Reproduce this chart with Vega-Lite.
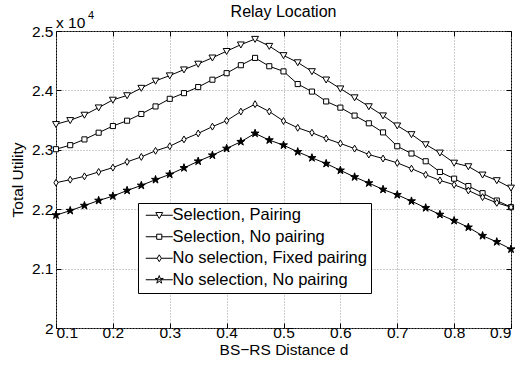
{
  "$schema": "https://vega.github.io/schema/vega-lite/v6.json",
  "width": 455,
  "height": 297,
  "autosize": {"type": "none"},
  "padding": {"left": 56, "top": 31, "right": 11, "bottom": 39},
  "background": "white",
  "title": {"text": "Relay Location", "font": "Liberation Sans", "fontSize": 16, "fontWeight": "normal", "color": "black", "frame": "group", "anchor": "middle", "offset": 9, "dy": 19},
  "config": {
    "font": "Liberation Sans",
    "view": {"stroke": "black", "strokeWidth": 1},
    "axis": {
      "labelFont": "Liberation Sans", "labelFontSize": 15.5, "labelColor": "black",
      "titleFont": "Liberation Sans", "titleFontSize": 15.5, "titleFontWeight": "normal", "titleColor": "black",
      "domainColor": "black", "tickColor": "black", "tickSize": -5, "labelPadding": 3,
      "gridColor": "#9a9a9a", "gridDash": [1, 2], "gridWidth": 1
    },
    "legend": {"labelFont": "Liberation Sans", "labelFontSize": 16.5, "labelColor": "black"}
  },
  "data": {"values": [
    {"d":0.1,"s":"Selection, Pairing","u":2.343},{"d":0.125,"s":"Selection, Pairing","u":2.3497},{"d":0.15,"s":"Selection, Pairing","u":2.3587},{"d":0.175,"s":"Selection, Pairing","u":2.371},{"d":0.2,"s":"Selection, Pairing","u":2.384},{"d":0.225,"s":"Selection, Pairing","u":2.3915},{"d":0.25,"s":"Selection, Pairing","u":2.404},{"d":0.275,"s":"Selection, Pairing","u":2.416},{"d":0.3,"s":"Selection, Pairing","u":2.425},{"d":0.325,"s":"Selection, Pairing","u":2.435},{"d":0.35,"s":"Selection, Pairing","u":2.4446},{"d":0.375,"s":"Selection, Pairing","u":2.455},{"d":0.4,"s":"Selection, Pairing","u":2.466},{"d":0.425,"s":"Selection, Pairing","u":2.477},{"d":0.45,"s":"Selection, Pairing","u":2.4864},{"d":0.475,"s":"Selection, Pairing","u":2.4746},{"d":0.5,"s":"Selection, Pairing","u":2.459},{"d":0.525,"s":"Selection, Pairing","u":2.447},{"d":0.55,"s":"Selection, Pairing","u":2.432},{"d":0.575,"s":"Selection, Pairing","u":2.418},{"d":0.6,"s":"Selection, Pairing","u":2.403},{"d":0.625,"s":"Selection, Pairing","u":2.388},{"d":0.65,"s":"Selection, Pairing","u":2.373},{"d":0.675,"s":"Selection, Pairing","u":2.3576},{"d":0.7,"s":"Selection, Pairing","u":2.3407},{"d":0.725,"s":"Selection, Pairing","u":2.326},{"d":0.75,"s":"Selection, Pairing","u":2.309},{"d":0.775,"s":"Selection, Pairing","u":2.295},{"d":0.8,"s":"Selection, Pairing","u":2.278},{"d":0.825,"s":"Selection, Pairing","u":2.272},{"d":0.85,"s":"Selection, Pairing","u":2.258},{"d":0.875,"s":"Selection, Pairing","u":2.2485},{"d":0.9,"s":"Selection, Pairing","u":2.236},
    {"d":0.1,"s":"Selection, No pairing","u":2.301},{"d":0.125,"s":"Selection, No pairing","u":2.3078},{"d":0.15,"s":"Selection, No pairing","u":2.3175},{"d":0.175,"s":"Selection, No pairing","u":2.3288},{"d":0.2,"s":"Selection, No pairing","u":2.34},{"d":0.225,"s":"Selection, No pairing","u":2.349},{"d":0.25,"s":"Selection, No pairing","u":2.3603},{"d":0.275,"s":"Selection, No pairing","u":2.373},{"d":0.3,"s":"Selection, No pairing","u":2.3858},{"d":0.325,"s":"Selection, No pairing","u":2.3954},{"d":0.35,"s":"Selection, No pairing","u":2.4056},{"d":0.375,"s":"Selection, No pairing","u":2.418},{"d":0.4,"s":"Selection, No pairing","u":2.429},{"d":0.425,"s":"Selection, No pairing","u":2.4424},{"d":0.45,"s":"Selection, No pairing","u":2.4547},{"d":0.475,"s":"Selection, No pairing","u":2.4407},{"d":0.5,"s":"Selection, No pairing","u":2.432},{"d":0.525,"s":"Selection, No pairing","u":2.4107},{"d":0.55,"s":"Selection, No pairing","u":2.398},{"d":0.575,"s":"Selection, No pairing","u":2.3814},{"d":0.6,"s":"Selection, No pairing","u":2.371},{"d":0.625,"s":"Selection, No pairing","u":2.3576},{"d":0.65,"s":"Selection, No pairing","u":2.3446},{"d":0.675,"s":"Selection, No pairing","u":2.3293},{"d":0.7,"s":"Selection, No pairing","u":2.306},{"d":0.725,"s":"Selection, No pairing","u":2.2937},{"d":0.75,"s":"Selection, No pairing","u":2.2807},{"d":0.775,"s":"Selection, No pairing","u":2.2627},{"d":0.8,"s":"Selection, No pairing","u":2.2514},{"d":0.825,"s":"Selection, No pairing","u":2.239},{"d":0.85,"s":"Selection, No pairing","u":2.227},{"d":0.875,"s":"Selection, No pairing","u":2.2146},{"d":0.9,"s":"Selection, No pairing","u":2.2034},
    {"d":0.1,"s":"No selection, Fixed pairing","u":2.2446},{"d":0.125,"s":"No selection, Fixed pairing","u":2.2497},{"d":0.15,"s":"No selection, Fixed pairing","u":2.2553},{"d":0.175,"s":"No selection, Fixed pairing","u":2.2627},{"d":0.2,"s":"No selection, Fixed pairing","u":2.27},{"d":0.225,"s":"No selection, Fixed pairing","u":2.2797},{"d":0.25,"s":"No selection, Fixed pairing","u":2.288},{"d":0.275,"s":"No selection, Fixed pairing","u":2.2983},{"d":0.3,"s":"No selection, Fixed pairing","u":2.306},{"d":0.325,"s":"No selection, Fixed pairing","u":2.3175},{"d":0.35,"s":"No selection, Fixed pairing","u":2.3276},{"d":0.375,"s":"No selection, Fixed pairing","u":2.339},{"d":0.4,"s":"No selection, Fixed pairing","u":2.349},{"d":0.425,"s":"No selection, Fixed pairing","u":2.3644},{"d":0.45,"s":"No selection, Fixed pairing","u":2.3768},{"d":0.475,"s":"No selection, Fixed pairing","u":2.3644},{"d":0.5,"s":"No selection, Fixed pairing","u":2.3485},{"d":0.525,"s":"No selection, Fixed pairing","u":2.337},{"d":0.55,"s":"No selection, Fixed pairing","u":2.3288},{"d":0.575,"s":"No selection, Fixed pairing","u":2.319},{"d":0.6,"s":"No selection, Fixed pairing","u":2.3107},{"d":0.625,"s":"No selection, Fixed pairing","u":2.302},{"d":0.65,"s":"No selection, Fixed pairing","u":2.292},{"d":0.675,"s":"No selection, Fixed pairing","u":2.2853},{"d":0.7,"s":"No selection, Fixed pairing","u":2.278},{"d":0.725,"s":"No selection, Fixed pairing","u":2.2683},{"d":0.75,"s":"No selection, Fixed pairing","u":2.258},{"d":0.775,"s":"No selection, Fixed pairing","u":2.2485},{"d":0.8,"s":"No selection, Fixed pairing","u":2.2412},{"d":0.825,"s":"No selection, Fixed pairing","u":2.2315},{"d":0.85,"s":"No selection, Fixed pairing","u":2.2203},{"d":0.875,"s":"No selection, Fixed pairing","u":2.2107},{"d":0.9,"s":"No selection, Fixed pairing","u":2.2034},
    {"d":0.1,"s":"No selection, No pairing","u":2.19},{"d":0.125,"s":"No selection, No pairing","u":2.1976},{"d":0.15,"s":"No selection, No pairing","u":2.206},{"d":0.175,"s":"No selection, No pairing","u":2.2146},{"d":0.2,"s":"No selection, No pairing","u":2.222},{"d":0.225,"s":"No selection, No pairing","u":2.2315},{"d":0.25,"s":"No selection, No pairing","u":2.24},{"d":0.275,"s":"No selection, No pairing","u":2.2497},{"d":0.3,"s":"No selection, No pairing","u":2.2586},{"d":0.325,"s":"No selection, No pairing","u":2.2695},{"d":0.35,"s":"No selection, No pairing","u":2.2807},{"d":0.375,"s":"No selection, No pairing","u":2.2908},{"d":0.4,"s":"No selection, No pairing","u":2.3022},{"d":0.425,"s":"No selection, No pairing","u":2.3136},{"d":0.45,"s":"No selection, No pairing","u":2.3276},{"d":0.475,"s":"No selection, No pairing","u":2.3163},{"d":0.5,"s":"No selection, No pairing","u":2.3078},{"d":0.525,"s":"No selection, No pairing","u":2.2966},{"d":0.55,"s":"No selection, No pairing","u":2.2864},{"d":0.575,"s":"No selection, No pairing","u":2.2768},{"d":0.6,"s":"No selection, No pairing","u":2.2654},{"d":0.625,"s":"No selection, No pairing","u":2.2542},{"d":0.65,"s":"No selection, No pairing","u":2.244},{"d":0.675,"s":"No selection, No pairing","u":2.2332},{"d":0.7,"s":"No selection, No pairing","u":2.2242},{"d":0.725,"s":"No selection, No pairing","u":2.2136},{"d":0.75,"s":"No selection, No pairing","u":2.2022},{"d":0.775,"s":"No selection, No pairing","u":2.191},{"d":0.8,"s":"No selection, No pairing","u":2.1807},{"d":0.825,"s":"No selection, No pairing","u":2.1695},{"d":0.85,"s":"No selection, No pairing","u":2.1553},{"d":0.875,"s":"No selection, No pairing","u":2.145},{"d":0.9,"s":"No selection, No pairing","u":2.1327}
  ]},
  "layer": [
    {
      "mark": {"type": "line", "color": "black", "strokeWidth": 1},
      "encoding": {
        "x": {"field": "d", "type": "quantitative", "scale": {"domain": [0.1, 0.9], "nice": false, "zero": false},
              "axis": {"orient": "bottom", "values": [0.1,0.2,0.3,0.4,0.5,0.6,0.7,0.8,0.9], "format": "~g", "labelPadding": 2.5, "title": "BS\u2212RS Distance d", "titleY": 26, "titleBaseline": "alphabetic", "domain": false}},
        "y": {"field": "u", "type": "quantitative", "scale": {"domain": [2, 2.5], "nice": false, "zero": false},
              "axis": {"orient": "left", "values": [2,2.1,2.2,2.3,2.4,2.5], "format": "~g", "labelPadding": 8, "title": "Total Utility", "titleX": -39, "titleY": 148.5, "titleAngle": 270, "titleAlign": "center", "titleBaseline": "middle", "domain": false}},
        "detail": {"field": "s"}
      }
    },
    {
      "mark": {"type": "point", "filled": false, "stroke": "black", "strokeWidth": 1, "size": 36, "opacity": 1},
      "encoding": {
        "x": {"field": "d", "type": "quantitative", "axis": {"orient": "top", "values": [0.1,0.2,0.3,0.4,0.5,0.6,0.7,0.8,0.9], "labels": false, "grid": false, "title": null, "domain": false}},
        "y": {"field": "u", "type": "quantitative", "axis": {"orient": "right", "values": [2,2.1,2.2,2.3,2.4,2.5], "labels": false, "grid": false, "title": null, "domain": false}},
        "shape": {"field": "s", "type": "nominal", "legend": null,
          "scale": {"domain": ["Selection, Pairing", "Selection, No pairing", "No selection, Fixed pairing", "No selection, No pairing"],
                    "range": ["M-1.15,-0.9L1.15,-0.9L0,1.1Z", "M-0.85,-0.85H0.85V0.85H-0.85Z", "M0,-1.15L0.7,0L0,1.15L-0.7,0Z", "M0,-1.4L0.314,-0.433L1.331,-0.433L0.508,0.165L0.823,1.133L0,0.535L-0.823,1.133L-0.508,0.165L-1.331,-0.433L-0.314,-0.433Z"]}},
        "fill": {"field": "s", "type": "nominal", "legend": null,
          "scale": {"domain": ["Selection, Pairing", "Selection, No pairing", "No selection, Fixed pairing", "No selection, No pairing"], "range": ["white", "white", "white", "black"]}}
      }
    },
    {
      "transform": [{"filter": "datum.d < 0"}],
      "mark": {"type": "point", "filled": false, "strokeWidth": 1, "size": 36, "opacity": 1},
      "encoding": {
        "x": {"field": "d", "type": "quantitative", "axis": null},
        "y": {"field": "u", "type": "quantitative", "axis": null},
        "stroke": {"field": "s", "type": "nominal",
          "scale": {"domain": ["Selection, Pairing", "Selection, No pairing", "No selection, Fixed pairing", "No selection, No pairing"], "range": ["black", "black", "black", "black"]},
          "legend": {
            "title": null, "orient": "none", "legendX": 82, "legendY": 172,
            "padding": 4, "rowPadding": 4.5, "labelOffset": 14, "labelLimit": 400,
            "strokeColor": "black", "fillColor": "white", "symbolSize": 36, "symbolStrokeWidth": 1, "symbolOpacity": 1, "symbolFillColor": "white", "symbolStrokeColor": "black"
          }
        },
        "shape": {"field": "s", "type": "nominal",
          "scale": {"domain": ["Selection, Pairing", "Selection, No pairing", "No selection, Fixed pairing", "No selection, No pairing"],
                    "range": ["M-1.5,0H2.37M3.63,0H7.5M1.85,-0.9H4.15L3,1.1Z", "M-1.5,0H2.15M3.85,0H7.5M2.15,-0.85H3.85V0.85H2.15Z", "M-1.5,0H2.3M3.7,0H7.5M3,-1.15L3.7,0L3,1.15L2.3,0Z", "M-1.5,0H7.5M3,-1.4L3.314,-0.433L4.331,-0.433L3.508,0.165L3.823,1.133L3,0.535L2.177,1.133L2.492,0.165L1.669,-0.433L2.686,-0.433Z"]},
          "legend": {
            "title": null, "orient": "none", "legendX": 82, "legendY": 172,
            "padding": 4, "rowPadding": 4.5, "labelOffset": 14, "labelLimit": 400,
            "strokeColor": "black", "fillColor": "white", "symbolSize": 36, "symbolStrokeWidth": 1, "symbolOpacity": 1, "symbolFillColor": "white", "symbolStrokeColor": "black"
          }
        },
        "fill": {"field": "s", "type": "nominal",
          "scale": {"domain": ["Selection, Pairing", "Selection, No pairing", "No selection, Fixed pairing", "No selection, No pairing"], "range": ["white", "white", "white", "black"]},
          "legend": {
            "title": null, "orient": "none", "legendX": 82, "legendY": 172,
            "padding": 4, "rowPadding": 4.5, "labelOffset": 14, "labelLimit": 400,
            "strokeColor": "black", "fillColor": "white", "symbolSize": 36, "symbolStrokeWidth": 1, "symbolOpacity": 1, "symbolFillColor": "white", "symbolStrokeColor": "black"
          }
        }
      }
    },
    {
      "data": {"values": [{}]},
      "mark": {"type": "text", "text": "x 10", "align": "left", "baseline": "alphabetic", "dy": -3, "fontSize": 15.5, "font": "Liberation Sans", "color": "black"},
      "encoding": {"x": {"datum": 0.1, "axis": null}, "y": {"datum": 2.5, "axis": null}}
    },
    {
      "data": {"values": [{}]},
      "mark": {"type": "text", "text": "4", "align": "left", "baseline": "alphabetic", "dx": 32, "dy": -12, "fontSize": 11, "font": "Liberation Sans", "color": "black"},
      "encoding": {"x": {"datum": 0.1, "axis": null}, "y": {"datum": 2.5, "axis": null}}
    }
  ],
  "resolve": {"axis": {"x": "independent", "y": "independent"}, "scale": {"shape": "independent"}}
}
